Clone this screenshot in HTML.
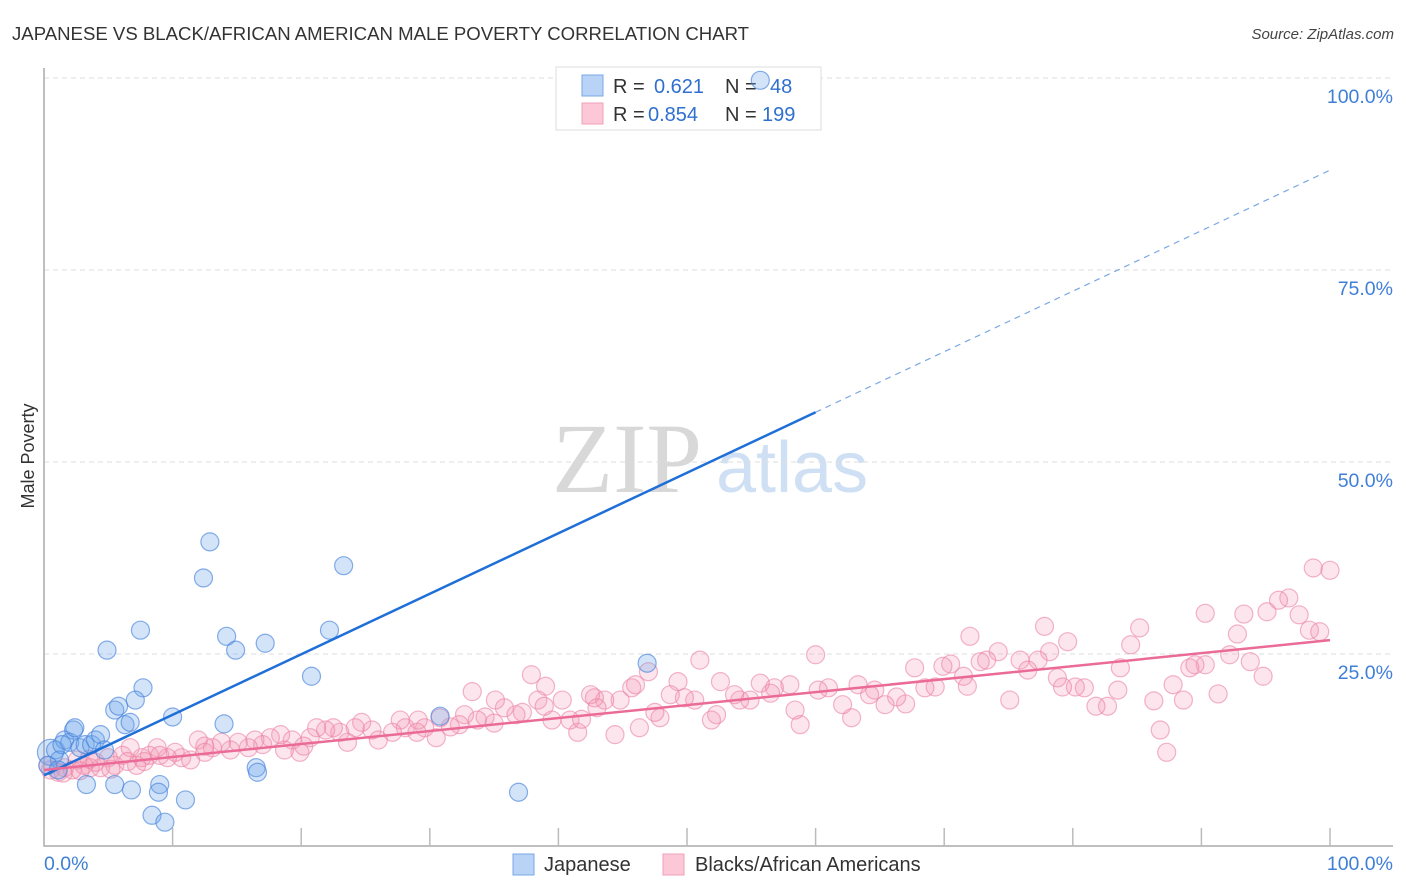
<!DOCTYPE html>
<html><head><meta charset="utf-8"><style>
body{margin:0;background:#fff;font-family:"Liberation Sans",sans-serif}
svg{display:block}
</style></head><body>
<svg id="chart" width="1406" height="892" viewBox="0 0 1406 892" xmlns="http://www.w3.org/2000/svg">
<text x="12" y="40" font-size="18.6" fill="#333">JAPANESE VS BLACK/AFRICAN AMERICAN MALE POVERTY CORRELATION CHART</text>
<text x="1394" y="39" font-size="15" font-style="italic" fill="#444" text-anchor="end">Source: ZipAtlas.com</text>
<g>
<text x="552" y="492" font-size="100" font-family="Liberation Serif,serif" fill="#d8d8d8">ZIP</text>
<text x="716" y="492" font-size="72" fill="#cfe0f4">atlas</text>
</g>
<g id="grid"></g>
<g id="axes"></g>
<text transform="translate(34,456) rotate(-90)" font-size="18" fill="#333" text-anchor="middle">Male Poverty</text>
<g>
<rect x="556" y="67" width="265" height="63" fill="#fff" stroke="#ddd"/>
<rect x="582" y="75" width="21" height="21" fill="#b8d3f5" stroke="#7aa7e6"/>
<rect x="582" y="103" width="21" height="21" fill="#fcc8d8" stroke="#f0a0b8"/>
<text x="613" y="93" font-size="20" fill="#333">R = </text><text x="654" y="93" font-size="20" fill="#2f6fd0">0.621</text>
<text x="725" y="93" font-size="20" fill="#333">N = </text><text x="770" y="93" font-size="20" fill="#2f6fd0">48</text>
<text x="613" y="121" font-size="20" fill="#333">R = </text><text x="648" y="121" font-size="20" fill="#2f6fd0">0.854</text>
<text x="725" y="121" font-size="20" fill="#333">N = </text><text x="762" y="121" font-size="20" fill="#2f6fd0">199</text>
</g>
<g id="pts"></g>
<g id="lines"></g>
<g>
<rect x="513" y="854" width="21" height="21" fill="#b8d3f5" stroke="#7aa7e6"/>
<text x="544" y="871" font-size="20" fill="#333">Japanese</text>
<rect x="663" y="854" width="21" height="21" fill="#fcc8d8" stroke="#f0a0b8"/>
<text x="695" y="871" font-size="20" fill="#333">Blacks/African Americans</text>
</g>
</svg>
<script>
const yTicks=[25,50,75,100];
const yTickLabels=["25.0%","50.0%","75.0%","100.0%"];
const xTicks=[0,10,20,30,40,50,60,70,80,90,100];
const jpX=[0.5,0.9,1.2,1.6,2.3,2.0,2.8,3.2,3.7,4.0,4.4,4.7,2.4,3.3,5.5,5.8,6.3,6.7,7.5,4.9,7.7,7.1,5.5,6.8,9.0,8.9,10.0,8.4,9.4,11.0,12.4,12.9,14.2,14.9,14.0,16.5,16.6,17.2,20.8,22.2,23.3,30.8,36.9,46.9,55.7,0.3,1.1,1.4];
const jpY=[12.2,12.5,11.2,13.8,15.1,13.5,12.8,13.2,13.2,13.8,14.5,12.5,15.4,8.0,17.7,18.2,15.8,16.1,28.1,25.5,20.6,19.0,8.0,7.3,8.0,7.0,16.8,4.0,3.1,6.0,34.9,39.6,27.3,25.5,15.9,10.2,9.6,26.4,22.1,28.1,36.5,16.9,7.0,23.8,99.7,10.5,9.9,13.2];
const bkX=[98.7,100,96.8,96,95.1,97.6,93.3,90.3,98.4,99.2,92.8,77.8,85.2,72,79.6,84.5,92.2,93.8,94.8,91.3,86.8,87.3,88.6,90.3,87.8,89.1,89.5,86.3,83.7,82.7,81.8,83.5,80.9,80.2,79.2,78.8,78.2,77.3,75.9,76.5,75.1,74.2,73.3,72.8,71.8,71.5,70.5,69.9,69.3,68.5,67.7,67,66.3,65.4,64.6,64.2,63.3,62.8,62.1,61,60.2,60,58.8,58.4,58,56.8,56.5,55.7,54.9,54.1,53.7,52.6,52.3,51.9,51,50.6,49.8,49.3,48.7,47.9,47.5,47,46.3,45.7,44.8,44.4,43.6,42.8,42.5,41.5,40.9,40.3,39.5,39,38.4,37.9,37.2,36.7,35.8,35.1,34.3,33.7,33.3,32.7,32.3,31.6,30.8,30.5,29.6,29.1,28.1,27.7,27.1,26,25.5,24.7,24.2,23.6,23,22.5,21.9,21.2,20.7,19.9,19.3,18.7,18.4,17.6,17,16.4,15.9,15.1,14.5,13.8,13.1,12.5,12,11.4,10.7,10.2,9.6,8.8,8.2,7.6,7.2,6.7,6.1,5.5,5,4.4,4,3.6,3.1,2.6,2.2,1.6,1.1,0.5,0.3,1.5,2.8,3.5,5.2,6.5,7.8,9,12.5,20.2,29,35,38.9,43,46,41.8];
const bkY=[36.2,35.9,32.3,32,30.5,30.1,30.2,30.3,28.1,27.9,27.6,28.6,28.4,27.3,26.6,26.2,24.9,24,22.1,19.8,15.1,12.2,19,23.6,21,23.2,23.6,18.9,23.2,18.2,18.2,20.3,20.6,20.7,20.7,21.9,25.3,24.2,24.2,22.9,19,25.3,24.2,24,20.8,22.1,23.7,23.4,20.7,20.6,23.2,18.5,19.4,18.4,20.3,19.7,21,16.7,18.4,20.6,20.3,24.9,15.8,17.7,21,20.6,19.9,21.2,19,19,19.7,21.4,17.1,16.4,24.2,19,19.3,21.4,19.7,16.7,17.4,22.7,15.4,20.6,19,14.5,19,19.3,19.7,14.8,16.4,19,16.4,20.8,19,22.3,17.4,17.1,18,19,16.8,16.4,20.1,17.1,15.8,15.5,16.7,14.1,15.4,16.4,15.4,16.4,14.8,13.8,15.1,16.1,15.4,13.5,14.8,15.4,15.1,15.4,14.1,12.2,13.8,12.5,14.5,14.1,13.2,13.8,12.8,13.5,12.5,13.5,12.8,13,13.8,11.2,11.5,12.2,11.5,12.8,11.8,11.5,10.5,12.8,11.8,10.5,11.5,10.2,10.9,10.2,10.5,11.2,9.9,10.2,9.6,9.9,10.5,9.5,9.8,11.3,10,11,11,11.8,12.2,13,14.8,16,18.2,18,21,16.5];
const jpLine=[9.2,88.0];
const bkLine=[9.9,26.8];
const NS="http://www.w3.org/2000/svg";
const X0=44,X1=1330,Y0=846,Y100=78;
const sx=v=>X0+(X1-X0)*v/100;
const sy=v=>Y0-(Y0-Y100)*v/100;
function mk(tag,attrs,parent){const e=document.createElementNS(NS,tag);for(const k in attrs)e.setAttribute(k,attrs[k]);parent.appendChild(e);return e;}
const grid=document.getElementById('grid'),axes=document.getElementById('axes');
yTicks.forEach((t,i)=>{
 const l=mk('line',{x1:X0,x2:1393,y1:sy(t),y2:sy(t),stroke:'#ddd','stroke-dasharray':'5,4'},grid);
 
 
 const tx=mk('text',{x:1393,y:sy(t)+25,'font-size':19.5,fill:'#3f7fd6','text-anchor':'end'},axes);
 tx.textContent=yTickLabels[i];
 
 
});
const ax=mk('path',{d:`M${X0} 68 V${Y0} H1393`,stroke:'#aaa','stroke-width':1.5,fill:'none'},axes);


xTicks.forEach(t=>{
 const l=mk('line',{x1:sx(t),x2:sx(t),y1:Y0,y2:Y0-18,stroke:'#bbb','stroke-width':1.5},axes);
 
 
});
const xl0=mk('text',{x:44,y:870,'font-size':19.5,fill:'#3f7fd6'},axes);xl0.textContent='0.0%';


const xl1=mk('text',{x:1393,y:870,'font-size':19.5,fill:'#3f7fd6','text-anchor':'end'},axes);xl1.textContent='100.0%';


const pts=document.getElementById('pts');
bkX.forEach((x,i)=>{const c=mk('circle',{cx:sx(x),cy:sy(bkY[i]),r:9,fill:'rgba(245,150,180,0.25)',stroke:'rgba(235,130,165,0.6)','stroke-width':1.2},pts);
 
 });
jpX.forEach((x,i)=>{const c=mk('circle',{cx:sx(x),cy:sy(jpY[i]),r:i===0?13:9,fill:'rgba(110,165,235,0.3)',stroke:'rgba(70,130,220,0.65)','stroke-width':1.2},pts);
 
 });
const lines=document.getElementById('lines');
const jy=x=>jpLine[0]+(jpLine[1]-jpLine[0])*x/100;
const l1=mk('line',{x1:sx(0),y1:sy(jy(0)),x2:sx(60),y2:sy(jy(60)),stroke:'#1f6fd8','stroke-width':2.5},lines);


const l2=mk('line',{x1:sx(60),y1:sy(jy(60)),x2:sx(100),y2:sy(jy(100)),stroke:'#7aa7e6','stroke-width':1.2,'stroke-dasharray':'6,5'},lines);


const l3=mk('line',{x1:sx(0),y1:sy(bkLine[0]),x2:sx(100),y2:sy(bkLine[1]),stroke:'#eb6b98','stroke-width':2.5},lines);


</script>
</body></html>
